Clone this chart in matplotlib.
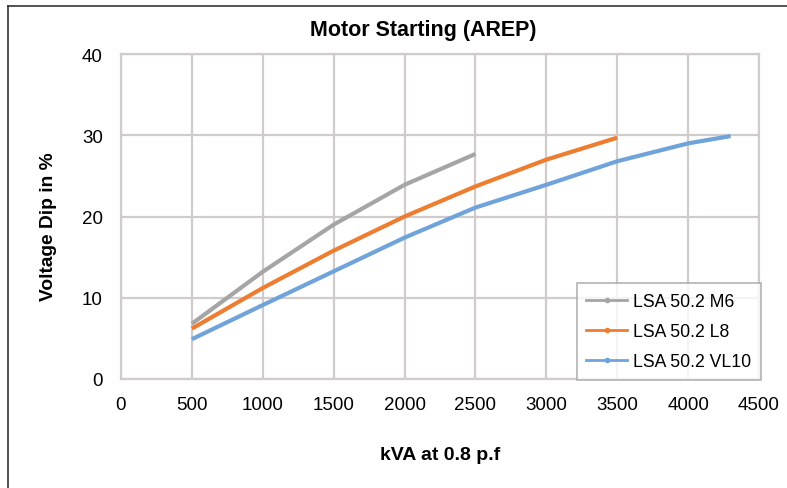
import matplotlib
matplotlib.use("Agg")
import matplotlib.pyplot as plt
from matplotlib.lines import Line2D

plt.rcParams['font.family'] = ['Liberation Sans', 'DejaVu Sans']

kva_m6 = [500, 1000, 1500, 2000, 2500]
dip_m6 = [6.8, 13.2, 19.0, 23.9, 27.7]
kva_l8 = [500, 1000, 1500, 2000, 2500, 3000, 3500]
dip_l8 = [6.2, 11.2, 15.8, 20.0, 23.7, 27.0, 29.7]
kva_vl10 = [500, 1000, 1500, 2000, 2500, 3000, 3500, 4000, 4300]
dip_vl10 = [4.9, 9.1, 13.25, 17.4, 21.1, 23.9, 26.8, 29.0, 29.9]

labels = ["LSA 50.2 M6", "LSA 50.2 L8", "LSA 50.2 VL10"]
colors = ["#A5A5A5", "#ED7D31", "#6FA3DA"]

fig = plt.figure(figsize=(7.87, 4.89), dpi=100)
ax = fig.add_axes([121/787, 1-380/489, (759-121)/787, (380-55)/489])

series = [(kva_m6, dip_m6), (kva_l8, dip_l8), (kva_vl10, dip_vl10)]
for (x, y), lab, c in zip(series, labels, colors):
    ax.plot(x, y, color=c, lw=3, label=lab, solid_capstyle='butt')

ax.set_xlim(0, 4500)
ax.set_ylim(0, 40)
ax.set_xticks(range(0, 4501, 500))
ax.set_yticks(range(0, 41, 10))
ax.grid(True, color="#D0CCCC", lw=1.6)
ax.set_axisbelow(True)
for s in ax.spines.values():
    s.set_color("#D0CCCC")
    s.set_linewidth(1.6)
ax.tick_params(length=0, labelsize=13.5)
ax.tick_params(axis='y', pad=13)
ax.tick_params(axis='x', pad=12)

ax.set_title("Motor Starting (AREP)", fontsize=15.5, fontweight='bold', pad=14, x=0.473)
ax.set_xlabel("kVA at 0.8 p.f", fontsize=14, fontweight='bold', labelpad=24)
ax.set_ylabel("Voltage Dip in %", fontsize=13.8, fontweight='bold')
ax.yaxis.set_label_coords(-0.101, 0.472)

handles = [Line2D([0], [0], color=c, lw=2, marker='o', markersize=3) for c in colors]
leg = ax.legend(handles, labels, loc='lower right', bbox_to_anchor=(1.003, -0.003),
                fontsize=12.7, frameon=True, fancybox=False, handlelength=2.3,
                handletextpad=0.35, labelspacing=0.75, borderpad=0.55, borderaxespad=0)
leg.get_frame().set_edgecolor("#A0A0A0")
leg.get_frame().set_linewidth(1.2)

# outer border (left and top edges)
fig.add_artist(Line2D([8/787, 8/787], [0, 1-7/489], transform=fig.transFigure, color="#333333", lw=1.2))
fig.add_artist(Line2D([8/787, 1], [1-7/489, 1-7/489], transform=fig.transFigure, color="#333333", lw=1.2))

fig.savefig("out.png", dpi=100)
